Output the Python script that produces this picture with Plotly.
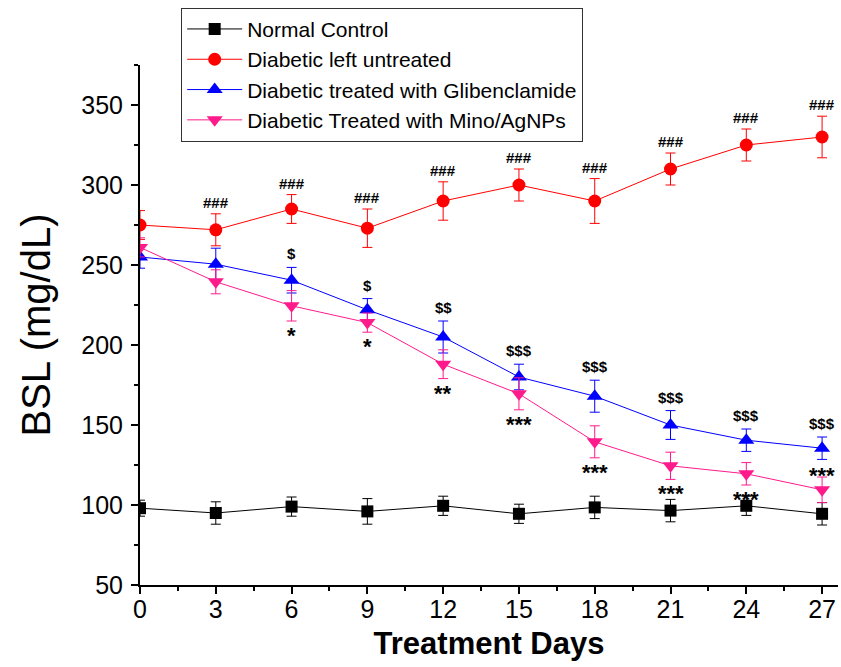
import plotly.graph_objects as go

days = [0, 3, 6, 9, 12, 15, 18, 21, 24, 27]

normal = [98, 95, 99, 96, 99.5, 94.5, 98.5, 96.5, 99.5, 94.5]
normal_err = [5, 7, 6, 8, 6, 6, 7, 7, 6, 7]

untreated = [275, 272, 285, 273, 290, 300, 290, 310, 325, 330]
untreated_err = [9, 10, 9, 12, 12, 10, 14, 10, 10, 13]

gliben = [255, 250.5, 240.5, 222, 205, 180, 168, 150, 140.5, 135.5]
gliben_err = [7, 10, 8, 7, 10, 8, 10, 9, 7, 7]

mino = [261, 239.5, 224.5, 214, 188, 169.5, 139.5, 124.5, 119.5, 109.5]
mino_err = [6, 7.5, 9.5, 6, 9, 10, 10, 8.5, 7, 8]

hash_marks = ["", "###", "###", "###", "###", "###", "###", "###", "###", "###"]
dollar_marks = ["", "", "$", "$", "$$", "$$$", "$$$", "$$$", "$$$", "$$$"]
star_marks = ["", "", "*", "*", "**", "***", "***", "***", "***", "***"]

names = ["Normal Control", "Diabetic left untreated",
         "Diabetic treated with Glibenclamide", "Diabetic Treated with Mino/AgNPs"]
colors = ["#000000", "#FF0000", "#0000FF", "#FF1A8C"]
symbols = ["square", "circle", "triangle-up", "triangle-down"]
sizes = [12, 13, 14, 14]

FONT = "Liberation Sans, Arial, sans-serif"

fig = go.Figure()
for ys, es, nm, c, s, sz in zip([normal, untreated, gliben, mino],
                                [normal_err, untreated_err, gliben_err, mino_err],
                                names, colors, symbols, sizes):
    fig.add_trace(go.Scatter(
        x=days, y=ys, name=nm, mode="lines+markers",
        line=dict(color=c, width=1),
        marker=dict(symbol=s, size=sz, color=c),
        error_y=dict(type="data", array=es, color=c, thickness=1, width=5),
    ))

# significance annotations
for i, d in enumerate(days):
    if hash_marks[i]:
        fig.add_annotation(x=d, y=untreated[i] + untreated_err[i], text=hash_marks[i],
                           showarrow=False, yanchor="bottom", yshift=1,
                           font=dict(family=FONT, size=15, color="black", weight="bold"))
    if dollar_marks[i]:
        fig.add_annotation(x=d, y=gliben[i] + gliben_err[i], text=dollar_marks[i],
                           showarrow=False, yanchor="bottom", yshift=3,
                           font=dict(family=FONT, size=15, color="black", weight="bold"))
    if star_marks[i]:
        if i == len(days) - 1:
            fig.add_annotation(x=d, y=mino[i] + mino_err[i], text=star_marks[i],
                               showarrow=False, yanchor="middle", yshift=2,
                               font=dict(family=FONT, size=22, color="black", weight="bold"))
        else:
            fig.add_annotation(x=d, y=mino[i] - mino_err[i], text=star_marks[i],
                               showarrow=False, yanchor="top", yshift=0,
                               font=dict(family=FONT, size=22, color="black", weight="bold"))

fig.update_layout(
    width=841, height=667,
    margin=dict(l=140, r=3, t=65, b=82),
    paper_bgcolor="white", plot_bgcolor="white",
    font=dict(family=FONT, color="black"),
    showlegend=True,
    legend=dict(x=0.059, y=1.11, xanchor="left", yanchor="top",
                bgcolor="white", bordercolor="#333333", borderwidth=1,
                font=dict(family=FONT, size=21, color="black"),
                tracegroupgap=0, itemwidth=55),
    xaxis=dict(range=[0, 27.63], tickmode="array", tickvals=days,
               ticktext=[str(d) for d in days],
               showline=True, linecolor="black", linewidth=2,
               ticks="outside", ticklen=7, tickwidth=2, tickcolor="black",
               minor=dict(ticks="outside", ticklen=4, tickwidth=2, tickcolor="black", dtick=1.5, tick0=0),
               showgrid=False, zeroline=False, ticklabelstandoff=-6,
               tickfont=dict(family=FONT, size=25, color="black"),
               title=dict(text="Treatment Days",
                          font=dict(family=FONT, size=31, color="black", weight="bold"), standoff=10)),
    yaxis=dict(range=[50, 375], tickmode="array", tickvals=[50, 100, 150, 200, 250, 300, 350],
               showline=True, linecolor="black", linewidth=2,
               ticks="outside", ticklen=7, tickwidth=2, tickcolor="black",
               minor=dict(ticks="outside", ticklen=4, tickwidth=2, tickcolor="black", dtick=25, tick0=0),
               showgrid=False, zeroline=False, ticklabelstandoff=3,
               tickfont=dict(family=FONT, size=25, color="black"),
               title=dict(text="BSL (mg/dL)", font=dict(family=FONT, size=40, color="black"), standoff=18)),
)

fig.write_html("out.html")
